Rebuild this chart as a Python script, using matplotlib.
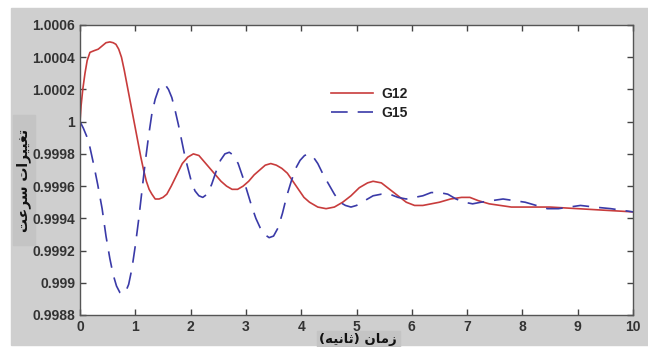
import matplotlib
matplotlib.use('Agg')
import matplotlib.pyplot as plt
from matplotlib.patches import Rectangle

# G12 (red, solid)
t_g12 = [0.0, 0.02, 0.05, 0.09, 0.13, 0.18, 0.25, 0.33, 0.4, 0.47, 0.54, 0.6,
         0.65, 0.7, 0.75, 0.8, 0.85, 0.9, 0.95, 1.0, 1.05, 1.1, 1.15, 1.2, 1.25,
         1.3, 1.36, 1.43, 1.5, 1.57, 1.65, 1.75, 1.85, 1.95, 2.05, 2.15, 2.25,
         2.35, 2.45, 2.55, 2.65, 2.75, 2.85, 2.95, 3.05, 3.15, 3.25, 3.35, 3.45,
         3.55, 3.65, 3.75, 3.85, 3.95, 4.05, 4.15, 4.3, 4.45, 4.6, 4.75, 4.9,
         5.05, 5.2, 5.3, 5.45, 5.6, 5.75, 5.9, 6.05, 6.2, 6.35, 6.5, 6.7, 6.9,
         7.05, 7.2, 7.4, 7.6, 7.8, 8.0, 8.5, 9.0, 9.5, 10.0]
v_g12 = [1.0000, 1.0001, 1.0002, 1.0003, 1.00038, 1.00043, 1.00044, 1.00045,
         1.00047, 1.00049, 1.000495, 1.00049, 1.00048, 1.00045, 1.0004, 1.00032,
         1.00023, 1.00014, 1.00005, 0.99996, 0.99987, 0.99978, 0.9997, 0.99963,
         0.99958, 0.99955, 0.99952, 0.99952, 0.99953, 0.99955, 0.9996, 0.99967,
         0.99974, 0.99978, 0.9998, 0.99979, 0.99975, 0.99971, 0.99967, 0.99963,
         0.9996, 0.99958, 0.99958, 0.9996, 0.99963, 0.99967, 0.9997, 0.99973,
         0.99974, 0.99973, 0.99971, 0.99968, 0.99963, 0.99958, 0.99953, 0.9995,
         0.99947, 0.99946, 0.99947, 0.9995, 0.99954, 0.99959, 0.99962, 0.99963,
         0.99962, 0.99958, 0.99954, 0.9995, 0.99948, 0.99948, 0.99949, 0.9995,
         0.99952, 0.99953, 0.99953, 0.99951, 0.99949, 0.99948, 0.99947, 0.99947,
         0.99947, 0.99946, 0.99945, 0.99944]

# G15 (blue, dashed)
t_g15 = [0.0, 0.06, 0.12, 0.18, 0.25, 0.32, 0.4, 0.47, 0.54, 0.6, 0.66, 0.72,
         0.77, 0.82, 0.88, 0.94, 1.0, 1.06, 1.12, 1.18, 1.24, 1.3, 1.36, 1.42,
         1.48, 1.54, 1.6, 1.66, 1.72, 1.78, 1.84, 1.9, 1.96, 2.02, 2.08, 2.15,
         2.22, 2.3, 2.38, 2.46, 2.54, 2.62, 2.7, 2.78, 2.86, 2.94, 3.02, 3.1,
         3.18, 3.26, 3.34, 3.42, 3.5, 3.58, 3.66, 3.74, 3.82, 3.9, 3.98, 4.06,
         4.14, 4.22, 4.3, 4.4, 4.5, 4.6, 4.7, 4.8, 4.9, 5.0, 5.15, 5.3, 5.45,
         5.6, 5.75, 5.9, 6.05, 6.2, 6.35, 6.5, 6.65, 6.8, 6.95, 7.1, 7.25, 7.45,
         7.65, 7.85, 8.05, 8.25, 8.45, 8.65, 8.85, 9.05, 9.3, 9.6, 10.0]
v_g15 = [1.0000, 0.99996, 0.99991, 0.99984, 0.99973, 0.99961, 0.99946, 0.99929,
         0.99915, 0.99905, 0.99898, 0.99894, 0.99893, 0.99894, 0.99899, 0.99909,
         0.99923, 0.99939, 0.99957, 0.99975, 0.99991, 1.00005, 1.00014, 1.0002,
         1.00023, 1.00023, 1.0002, 1.00015, 1.00007, 0.99998, 0.99988, 0.99978,
         0.9997, 0.99962, 0.99957, 0.99954, 0.99953, 0.99955, 0.99961, 0.99969,
         0.99976, 0.9998, 0.99981, 0.99979, 0.99974, 0.99966, 0.99957, 0.99948,
         0.9994, 0.99934, 0.9993, 0.99928, 0.99929, 0.99934, 0.99943, 0.99954,
         0.99963, 0.99971, 0.99976, 0.99979, 0.9998, 0.99978, 0.99974, 0.99967,
         0.99961, 0.99955, 0.9995, 0.99948, 0.99947, 0.99948, 0.99951, 0.99954,
         0.99955, 0.99955, 0.99953, 0.99952, 0.99953, 0.99954, 0.99956, 0.99956,
         0.99955, 0.99952, 0.9995, 0.99949, 0.9995, 0.99951, 0.99952, 0.99951,
         0.9995, 0.99948, 0.99946, 0.99946, 0.99947, 0.99948, 0.99947, 0.99946,
         0.99944]

xticks = list(range(0, 11))
yticks = [0.9988, 0.999, 0.9992, 0.9994, 0.9996, 0.9998, 1.0, 1.0002, 1.0004, 1.0006]
ytick_labels = ['0.9988', '0.999', '0.9992', '0.9994', '0.9996', '0.9998', '1',
                '1.0002', '1.0004', '1.0006']

# Persian labels, pre-shaped (presentation forms, visual order)
ylabel_txt = '\ufe96\ufecb\ufeae\ufeb3 \ufe95\ufe8d\ufeae\ufef4\ufef4\ufed0\ufe97'
xlabel_txt = '(\ufeea\ufef4\ufee7\ufe8e\ufe9b) \ufee5\ufe8e\ufee3\ufeaf'

W, H = 648, 347
fig = plt.figure(figsize=(W / 100, H / 100), dpi=100, facecolor='white')

# gray window background
fig.patches.append(Rectangle((11 / W, 2 / H), (W - 11) / W, (345 - 8) / H,
                             transform=fig.transFigure, color='#cfcfcf', zorder=-3))
fig.patches.append(Rectangle((13 / W, (H - 245) / H), 22 / W, 130 / H,
                             transform=fig.transFigure, color='#c4c4c4', zorder=-2))
fig.patches.append(Rectangle((317 / W, 0), 83 / W, 16 / H,
                             transform=fig.transFigure, color='#c4c4c4', zorder=-2))

ax = fig.add_axes([80 / W, (H - 315) / H, 553 / W, 290 / H])
ax.set_zorder(1)
ax.set_facecolor('white')

ax.plot(t_g12, v_g12, color='#c83c3c', lw=1.2, label='G12')
ax.plot(t_g15, v_g15, color='#3a3aa8', lw=1.2, dashes=(10, 6), label='G15')

ax.set_xlim(0, 10)
ax.set_ylim(0.9988, 1.0006)
ax.set_xticks(xticks)
ax.set_yticks(yticks)
ax.set_yticklabels(ytick_labels)
ax.tick_params(direction='in', length=4, top=True, right=True, colors='#444444',
               labelcolor='#333333', labelsize=10, width=1)
for lab in ax.get_xticklabels() + ax.get_yticklabels():
    lab.set_fontweight('bold')
    lab.set_family('Liberation Sans')
for sp in ax.spines.values():
    sp.set_color('#555555')
    sp.set_linewidth(1)

leg = ax.legend(loc='upper left', bbox_to_anchor=(0.432, 0.83), frameon=False,
                handlelength=3.0, handletextpad=0.6, labelspacing=0.4,
                prop={'family': 'Liberation Sans', 'weight': 'bold', 'size': 10})
for txt in leg.get_texts():
    txt.set_color('#222222')

fig.text(24 / W, 1 - 180 / H, ylabel_txt, rotation=90, ha='center', va='center',
         fontsize=10, fontweight='bold', family=['DejaVu Sans'], color='#111111')
fig.text(358 / W, 1 - 340 / H, xlabel_txt, ha='center', va='center',
         fontsize=9.5, fontweight='bold', family=['DejaVu Sans'], color='#111111')

fig.savefig('out.png', dpi=100, facecolor='white')
